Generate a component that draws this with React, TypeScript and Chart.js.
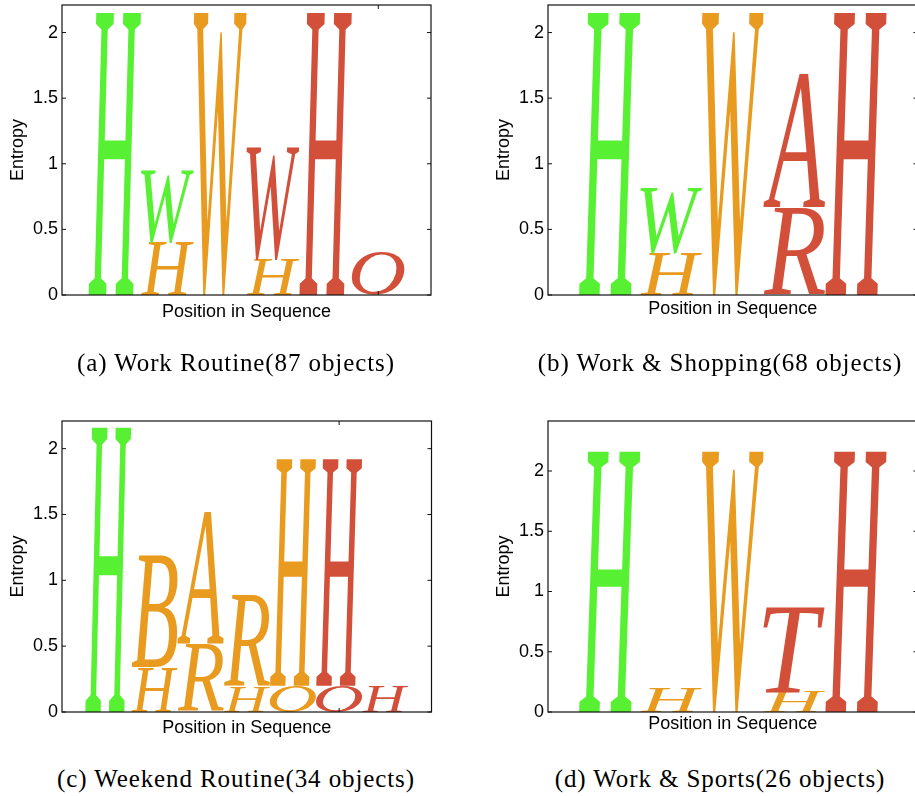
import React, { useEffect, useRef } from "react";
import { Chart, registerables } from "chart.js";

Chart.register(...registerables);

const FONT_SANS = '"Liberation Sans", Arial, Helvetica, sans-serif';
const FONT_LOGO = '"Liberation Serif", "Times New Roman", serif';
const FONT_CAPTION = '"Liberation Serif", "Times New Roman", serif';

const PALETTE: Record<string, string> = { g: "#57F032", o: "#E89B1F", r: "#D2503A" };

// ---------- data (stacks listed bottom -> top) ----------
// (a) Work Routine
const positionsA = [1, 2, 3, 4, 5, 6];
const lettersA = [["H"], ["H", "W"], ["W"], ["H", "W"], ["H"], ["O"]];
const heightsA = [[2.15], [0.4, 0.55], [2.15], [0.27, 0.85], [2.15], [0.32]];
const colorsA = [["g"], ["o", "g"], ["o"], ["o", "r"], ["r"], ["r"]];

// (b) Work & Shopping
const positionsB = [1, 2, 3, 4, 5];
const lettersB = [["H"], ["H", "W"], ["W"], ["R", "A"], ["H"]];
const heightsB = [[2.15], [0.32, 0.5], [2.15], [0.66, 1.01], [2.15]];
const colorsB = [["g"], ["o", "g"], ["o"], ["r", "r"], ["r"]];

// (c) Weekend Routine
const positionsC = [1, 2, 3, 4, 5, 6, 7];
const lettersC = [["H"], ["H", "B"], ["R", "A"], ["H", "R"], ["O", "H"], ["O", "H"], ["H"]];
const heightsC = [[2.16], [0.34, 0.84], [0.51, 1.0], [0.19, 0.68], [0.2, 1.72], [0.2, 1.72], [0.2]];
const colorsC = [["g"], ["o", "o"], ["o", "o"], ["o", "o"], ["o", "o"], ["r", "r"], ["r"]];

// (d) Work & Sports
const positionsD = [1, 2, 3, 4, 5];
const lettersD = [["H"], ["H"], ["W"], ["H", "T"], ["H"]];
const heightsD = [[2.16], [0.2], [2.16], [0.17, 0.7], [2.16]];
const colorsD = [["g"], ["o"], ["o"], ["o", "r"], ["r"]];

const captions = [
  "(a) Work Routine(87 objects)",
  "(b) Work & Shopping(68 objects)",
  "(c) Weekend Routine(34 objects)",
  "(d) Work & Sports(26 objects)",
];
const xMaxes = [7, 6, 8, 6];
const yMaxes = [2.21, 2.21, 2.21, 2.415];
const yTickValues = [0, 0.5, 1, 1.5, 2];
const xTickValues = [6];

type PanelData = {
  positions: number[];
  letters: string[][];
  heights: number[][];
  colors: string[][];
};

const panelData: PanelData[] = [
  { positions: positionsA, letters: lettersA, heights: heightsA, colors: colorsA },
  { positions: positionsB, letters: lettersB, heights: heightsB, colors: colorsB },
  { positions: positionsC, letters: lettersC, heights: heightsC, colors: colorsC },
  { positions: positionsD, letters: lettersD, heights: heightsD, colors: colorsD },
];

// ---------- layout (page pixel coordinates) ----------
type Geo = {
  cl: number; ct: number; cw: number; ch: number;
  L: number; T: number; R: number; B: number;
  xlabY: number; ylabX: number;
};
const geos: Geo[] = [
  { cl: 0, ct: -20, cw: 455, ch: 370, L: 62, T: 5, R: 431, B: 295, xlabY: 312, ylabX: 18.3 },
  { cl: 455, ct: -20, cw: 475, ch: 370, L: 548, T: 5, R: 917.5, B: 295, xlabY: 309.3, ylabX: 504.3 },
  { cl: 0, ct: 400, cw: 455, ch: 360, L: 62, T: 421, R: 431.5, B: 712, xlabY: 728.3, ylabX: 18.3 },
  { cl: 455, ct: 400, cw: 475, ch: 360, L: 548, T: 421, R: 917.5, B: 712, xlabY: 724, ylabX: 504.3 },
];
const captionPos = [
  { cx: 236, top: 347.5 },
  { cx: 720, top: 347.5 },
  { cx: 236, top: 764 },
  { cx: 720, top: 764 },
];

function drawGlyph(ctx: CanvasRenderingContext2D, ch: string, x0: number, yTop: number, w: number, h: number, color: string) {
  ctx.save();
  ctx.font = `italic 200px ${FONT_LOGO}`;
  ctx.textAlign = "left";
  ctx.textBaseline = "alphabetic";
  const m = ctx.measureText(ch);
  const gl = m.actualBoundingBoxLeft;
  const gr = m.actualBoundingBoxRight;
  const ga = m.actualBoundingBoxAscent;
  const gd = m.actualBoundingBoxDescent;
  const gw = gl + gr;
  const gh = ga + gd;
  if (gw <= 0 || gh <= 0) { ctx.restore(); return; }
  ctx.translate(x0, yTop + h);
  ctx.scale(w / gw, h / gh);
  ctx.fillStyle = color;
  ctx.fillText(ch, gl, -gd);
  ctx.restore();
}

function Panel({ idx }: { idx: number }) {
  const ref = useRef<HTMLCanvasElement | null>(null);
  const g = geos[idx];
  const d = panelData[idx];

  useEffect(() => {
    if (!ref.current) return;
    const nLayers = Math.max(...d.heights.map((s) => s.length));
    const datasets: any[] = [];
    for (let k = 0; k < nLayers; k++) {
      datasets.push({
        label: "layer" + k,
        data: d.positions.map((p, i) => ({ x: p, y: d.heights[i][k] ?? 0 })),
        backgroundColor: "rgba(0,0,0,0)",
        borderWidth: 0,
        barPercentage: 1,
        categoryPercentage: 1,
        grouped: false,
      });
    }

    const pt = g.T - g.ct;
    const pr = g.cw - (g.R - g.cl);
    const hx = g.xlabY - g.B + 10.8;
    const pb = g.ch - (g.B - g.ct) - hx;
    const pl = g.ylabX - g.cl - 10.8;
    const yw = g.L - g.cl - pl;

    const logoPlugin = {
      id: "logoLetters" + idx,
      afterDatasetsDraw(chart: any) {
        const ctx = chart.ctx as CanvasRenderingContext2D;
        for (let k = 0; k < nLayers; k++) {
          const meta = chart.getDatasetMeta(k);
          meta.data.forEach((el: any, j: number) => {
            const letter = d.letters[j][k];
            if (!letter) return;
            const { x, y, base, width } = el.getProps(["x", "y", "base", "width"], true);
            const top = Math.min(y, base);
            const h = Math.abs(base - y);
            if (h <= 0.5) return;
            drawGlyph(ctx, letter, x - width / 2, top, width, h, PALETTE[d.colors[j][k]]);
          });
        }
      },
      afterDraw(chart: any) {
        const ctx = chart.ctx as CanvasRenderingContext2D;
        const { left, right, top, bottom } = chart.chartArea;
        const ys = chart.scales.y;
        const xs = chart.scales.x;
        ctx.save();
        ctx.strokeStyle = "#111";
        ctx.lineWidth = 1.2;
        ctx.strokeRect(left, top, right - left, bottom - top);
        ctx.lineWidth = 1;
        ctx.beginPath();
        yTickValues.forEach((v) => {
          const py = ys.getPixelForValue(v);
          ctx.moveTo(left, py);
          ctx.lineTo(left + 4, py);
          ctx.moveTo(right, py);
          ctx.lineTo(right - 4, py);
        });
        xTickValues.forEach((v) => {
          const px = xs.getPixelForValue(v);
          if (px < left - 0.5 || px > right + 0.5) return;
          ctx.moveTo(px, top);
          ctx.lineTo(px, top + 4);
          ctx.moveTo(px, bottom);
          ctx.lineTo(px, bottom - 4);
        });
        ctx.stroke();
        ctx.restore();
      },
    };

    const chart = new Chart(ref.current, {
      type: "bar",
      data: { datasets },
      options: {
        animation: false,
        responsive: false,
        maintainAspectRatio: false,
        events: [],
        layout: { padding: { left: pl, top: pt, right: pr, bottom: pb } },
        plugins: {
          legend: { display: false },
          tooltip: { enabled: false },
          title: { display: false },
        },
        scales: {
          x: {
            type: "linear",
            min: 0,
            max: xMaxes[idx],
            offset: false,
            stacked: true,
            grid: { display: false, drawTicks: false },
            border: { display: false },
            ticks: { display: false },
            title: {
              display: true,
              text: "Position in Sequence",
              font: { family: FONT_SANS, size: 18 },
              color: "#000",
              padding: 0,
            },
            afterFit: (s: any) => {
              s.height = hx;
              s.paddingLeft = 0;
              s.paddingRight = 0;
            },
          },
          y: {
            type: "linear",
            min: 0,
            max: yMaxes[idx],
            stacked: true,
            grid: { display: false, drawTicks: false },
            border: { display: false },
            ticks: {
              font: { family: FONT_SANS, size: 18 },
              color: "#000",
              padding: 4,
              callback: (v: any) => String(v),
            },
            afterBuildTicks: (s: any) => {
              s.ticks = yTickValues.map((v) => ({ value: v }));
            },
            title: {
              display: true,
              text: "Entropy",
              font: { family: FONT_SANS, size: 18 },
              color: "#000",
              padding: 0,
            },
            afterFit: (s: any) => {
              s.width = yw;
              s.paddingTop = 0;
              s.paddingBottom = 0;
            },
          },
        },
      } as any,
      plugins: [logoPlugin as any],
    });
    return () => chart.destroy();
  }, []);

  return (
    <canvas
      ref={ref}
      width={g.cw}
      height={g.ch}
      style={{ position: "absolute", left: g.cl, top: g.ct, width: g.cw, height: g.ch }}
    />
  );
}

export default function App() {
  return (
    <div
      style={{
        position: "absolute",
        left: 0,
        top: 0,
        width: 915,
        height: 796,
        overflow: "hidden",
        background: "#fff",
      }}
    >
      {[0, 1, 2, 3].map((i) => (
        <Panel key={i} idx={i} />
      ))}
      {captions.map((c, i) => (
        <div
          key={"cap" + i}
          style={{
            position: "absolute",
            left: captionPos[i].cx - 400,
            top: captionPos[i].top,
            width: 800,
            textAlign: "center",
            fontFamily: FONT_CAPTION,
            fontSize: 25,
            lineHeight: "30px",
            letterSpacing: "0.9px",
            color: "#000",
            whiteSpace: "nowrap",
          }}
        >
          {c}
        </div>
      ))}
    </div>
  );
}
